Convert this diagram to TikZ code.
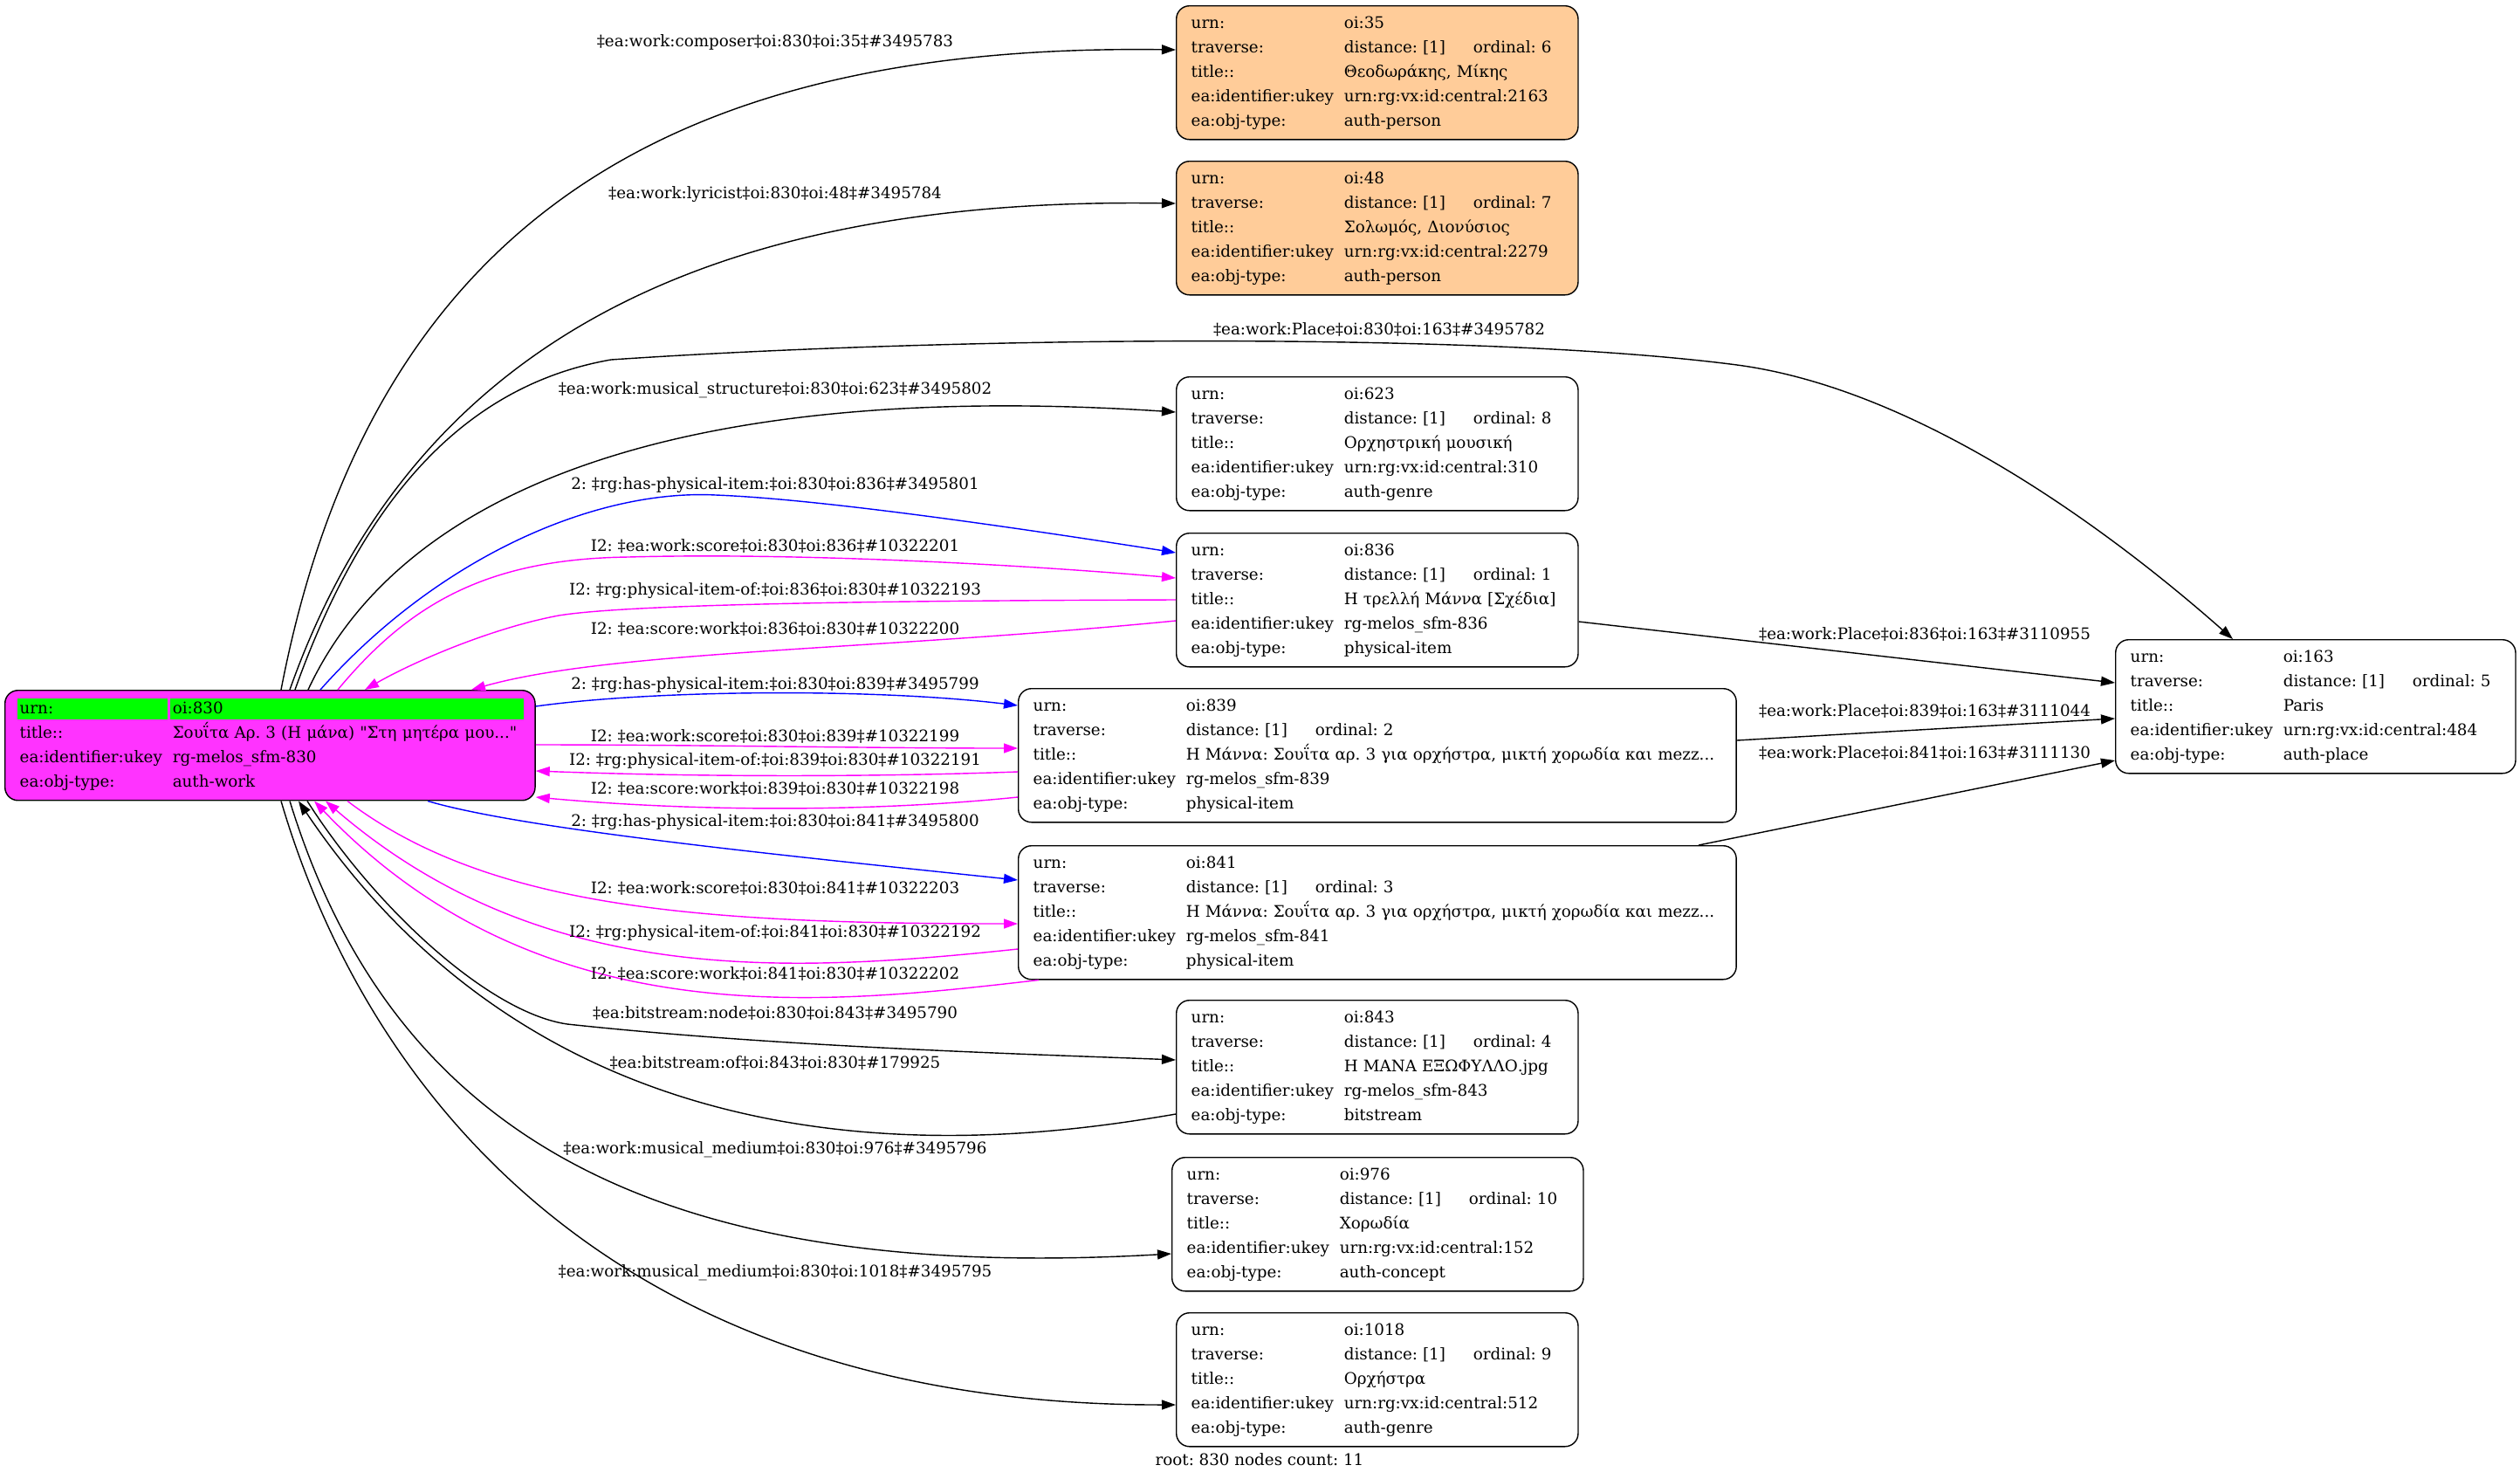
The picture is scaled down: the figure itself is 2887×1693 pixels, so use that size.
\documentclass[tikz,border=0pt]{standalone}
\usepackage{fontspec}
\setmainfont{DejaVu Serif}[Ligatures=TeXOff]
\usepackage{tikz}
\usetikzlibrary{arrows.meta,calc}

\definecolor{rootfill}{HTML}{FF33FF}
\definecolor{personfill}{HTML}{FFCC99}
\definecolor{urngreen}{HTML}{00FF00}
\definecolor{linkblue}{HTML}{0000FF}
\definecolor{linkpink}{HTML}{FF00FF}
\frenchspacing

\begin{document}
\begin{tikzpicture}[x=0.01cm, y=-0.01cm,
  rec/.style={draw, rounded corners=0.15cm, anchor=north west, align=left, inner xsep=0.17cm, inner ysep=0pt, minimum height=1.53cm, font=\fontsize{5.2}{7.97}\selectfont},
  elabel/.style={inner sep=0pt, font=\fontsize{5.2}{7.97}\selectfont},
  link/.style={line width=0.4pt, -{Triangle[length=0.16cm,width=0.11cm]}},
  has/.style={link, linkblue},
  inv/.style={link, linkpink}]
  \useasboundingbox (0,0) rectangle (2887,1693);

  \node[rec, fill=rootfill, text width=5.73cm, minimum height=1.26cm,
    path picture={
      \fill[urngreen, sharp corners] ($(path picture bounding box.north west)+(14,9)$) rectangle ++(172,24);
      \fill[urngreen, sharp corners] ($(path picture bounding box.north west)+(189,9)$) rectangle ++(405,24);
    }] (root) at (5,790) {\begin{tabular}{@{}p{1.75cm}@{}l@{}}
    urn: & oi:830\\
    title:: & Σουΐτα Αρ. 3 (Η μάνα) "Στη μητέρα μου..."\\
    ea:identifier:ukey & rg-melos\_sfm-830\\
    ea:obj-type: & auth-work
  \end{tabular}};

  \node[rec, fill=personfill, text width=4.26cm] (n35) at (1347,6) {\begin{tabular}{@{}p{1.75cm}@{}l@{}}
    urn: & oi:35\\
    traverse: & \makebox[1.48cm][l]{distance: [1]}ordinal: 6\\
    title:: & Θεοδωράκης, Μίκης\\
    ea:identifier:ukey & urn:rg:vx:id:central:2163\\
    ea:obj-type: & auth-person
  \end{tabular}};
  \node[rec, fill=personfill, text width=4.26cm] (n48) at (1347,184) {\begin{tabular}{@{}p{1.75cm}@{}l@{}}
    urn: & oi:48\\
    traverse: & \makebox[1.48cm][l]{distance: [1]}ordinal: 7\\
    title:: & Σολωμός, Διονύσιος\\
    ea:identifier:ukey & urn:rg:vx:id:central:2279\\
    ea:obj-type: & auth-person
  \end{tabular}};
  \node[rec, text width=4.26cm] (n623) at (1347,431) {\begin{tabular}{@{}p{1.75cm}@{}l@{}}
    urn: & oi:623\\
    traverse: & \makebox[1.48cm][l]{distance: [1]}ordinal: 8\\
    title:: & Ορχηστρική μουσική\\
    ea:identifier:ukey & urn:rg:vx:id:central:310\\
    ea:obj-type: & auth-genre
  \end{tabular}};
  \node[rec, text width=4.26cm] (n836) at (1347,610) {\begin{tabular}{@{}p{1.75cm}@{}l@{}}
    urn: & oi:836\\
    traverse: & \makebox[1.48cm][l]{distance: [1]}ordinal: 1\\
    title:: & Η τρελλή Μάννα [Σχέδια]\\
    ea:identifier:ukey & rg-melos\_sfm-836\\
    ea:obj-type: & physical-item
  \end{tabular}};
  \node[rec, text width=7.88cm] (n839) at (1166,788) {\begin{tabular}{@{}p{1.75cm}@{}l@{}}
    urn: & oi:839\\
    traverse: & \makebox[1.48cm][l]{distance: [1]}ordinal: 2\\
    title:: & Η Μάννα: Σουΐτα αρ. 3 για ορχήστρα, μικτή χορωδία και mezz...\\
    ea:identifier:ukey & rg-melos\_sfm-839\\
    ea:obj-type: & physical-item
  \end{tabular}};
  \node[rec, text width=7.88cm] (n841) at (1166,968) {\begin{tabular}{@{}p{1.75cm}@{}l@{}}
    urn: & oi:841\\
    traverse: & \makebox[1.48cm][l]{distance: [1]}ordinal: 3\\
    title:: & Η Μάννα: Σουΐτα αρ. 3 για ορχήστρα, μικτή χορωδία και mezz...\\
    ea:identifier:ukey & rg-melos\_sfm-841\\
    ea:obj-type: & physical-item
  \end{tabular}};
  \node[rec, text width=4.26cm] (n843) at (1347,1145) {\begin{tabular}{@{}p{1.75cm}@{}l@{}}
    urn: & oi:843\\
    traverse: & \makebox[1.48cm][l]{distance: [1]}ordinal: 4\\
    title:: & Η ΜΑΝΑ ΕΞΩΦΥΛΛΟ.jpg\\
    ea:identifier:ukey & rg-melos\_sfm-843\\
    ea:obj-type: & bitstream
  \end{tabular}};
  \node[rec, text width=4.37cm] (n976) at (1342,1325) {\begin{tabular}{@{}p{1.75cm}@{}l@{}}
    urn: & oi:976\\
    traverse: & \makebox[1.48cm][l]{distance: [1]}ordinal: 10\\
    title:: & Χορωδία\\
    ea:identifier:ukey & urn:rg:vx:id:central:152\\
    ea:obj-type: & auth-concept
  \end{tabular}};
  \node[rec, text width=4.26cm] (n1018) at (1347,1503) {\begin{tabular}{@{}p{1.75cm}@{}l@{}}
    urn: & oi:1018\\
    traverse: & \makebox[1.48cm][l]{distance: [1]}ordinal: 9\\
    title:: & Ορχήστρα\\
    ea:identifier:ukey & urn:rg:vx:id:central:512\\
    ea:obj-type: & auth-genre
  \end{tabular}};
  \node[rec, text width=4.24cm] (n163) at (2423,732) {\begin{tabular}{@{}p{1.75cm}@{}l@{}}
    urn: & oi:163\\
    traverse: & \makebox[1.48cm][l]{distance: [1]}ordinal: 5\\
    title:: & Paris\\
    ea:identifier:ukey & urn:rg:vx:id:central:484\\
    ea:obj-type: & auth-place
  \end{tabular}};

  % links leaving the top of the work
  \draw[link] ($(root.north west)+(317,0)$) .. controls (430,230) and (800,50) .. ($(n35.north west)+(0,51)$);
  \draw[link] ($(root.north west)+(327,0)$) .. controls (470,400) and (800,225) .. ($(n48.north west)+(0,49)$);
  \draw[link] ($(root.north west)+(333,0)$) .. controls (420,560) and (540,440) .. (700,412)
    .. controls (1100,385) and (1700,380) .. (1990,418) .. controls (2200,446) and (2420,610) .. ($(n163.north west)+(135,0)$);
  \draw[link] ($(root.north west)+(348,0)$) .. controls (460,560) and (780,435) .. ($(n623.north west)+(0,41)$);
  \draw[has] ($(root.north west)+(362,0)$) .. controls (500,640) and (680,560) .. (820,567)
    .. controls (950,572) and (1200,610) .. ($(n836.north west)+(0,23)$);
  \draw[inv] ($(root.north west)+(382,0)$) .. controls (470,690) and (560,640) .. (720,638)
    .. controls (900,633) and (1150,645) .. ($(n836.north west)+(0,52)$);
  \draw[inv] ($(n836.north west)+(0,77)$) .. controls (1000,688) and (720,692) .. (640,705)
    .. controls (560,720) and (470,760) .. ($(root.north west)+(413,0)$);
  \draw[inv] ($(n836.north west)+(0,101)$) .. controls (1000,745) and (700,745) .. ($(root.north west)+(535,0)$);

  % links on the right side
  \draw[has] ($(root.north east)+(0,19)$) .. controls (750,790) and (1000,788) .. ($(n839.north west)+(0,20)$);
  \draw[inv] ($(root.north east)+(0,63)$) .. controls (800,853) and (1000,857) .. ($(n839.north west)+(0,69)$);
  \draw[inv] ($(n839.north west)+(0,96)$) .. controls (1000,890) and (800,890) .. ($(root.north east)+(0,93)$);
  \draw[inv] ($(n839.north west)+(0,125)$) .. controls (1000,930) and (800,930) .. ($(root.north east)+(0,123)$);

  % links leaving the bottom
  \draw[has] ($(root.south west)+(485,0)$) .. controls (600,950) and (900,980) .. ($(n841.north west)+(0,40)$);
  \draw[inv] ($(root.south west)+(393,0)$) .. controls (560,1040) and (800,1058) .. ($(n841.north west)+(0,90)$);
  \draw[inv] ($(n841.north west)+(0,119)$) .. controls (900,1115) and (620,1130) .. ($(root.south west)+(368,0)$);
  \draw[inv] ($(n841.south west)+(24,0)$) .. controls (950,1150) and (620,1190) .. ($(root.south west)+(355,0)$);
  \draw[link] ($(root.south west)+(347,0)$) .. controls (430,1040) and (560,1160) .. (650,1173)
    .. controls (900,1200) and (1200,1208) .. ($(n843.north west)+(0,69)$);
  \draw[link] ($(n843.north west)+(0,131)$) .. controls (1150,1310) and (650,1375) .. ($(root.south west)+(337,0)$);
  \draw[link] ($(root.south west)+(327,0)$) .. controls (450,1300) and (750,1470) .. ($(n976.north west)+(0,111)$);
  \draw[link] ($(root.south west)+(317,0)$) .. controls (420,1250) and (700,1610) .. ($(n1018.north west)+(0,106)$);

  % places
  \draw[link] ($(n836.north east)+(0,102)$) -- ($(n163.north west)+(0,50)$);
  \draw[link] ($(n839.north east)+(0,60)$) -- ($(n163.north west)+(0,91)$);
  \draw[link] ($(n841.north west)+(780,0)$) -- ($(n163.north west)+(0,139)$);

  \node[elabel] (l35) at (888,48) {‡ea:work:composer‡oi:830‡oi:35‡\#3495783};
  \node[elabel] (l48) at (888,223) {‡ea:work:lyricist‡oi:830‡oi:48‡\#3495784};
  \node[elabel] (l163) at (1580,377) {‡ea:work:Place‡oi:830‡oi:163‡\#3495782};
  \node[elabel] (l623) at (888,447) {‡ea:work:musical\_structure‡oi:830‡oi:623‡\#3495802};
  \node[elabel] (lh836) at (888,556) {2: ‡rg:has-physical-item:‡oi:830‡oi:836‡\#3495801};
  \node[elabel] (lw836) at (888,625) {I2: ‡ea:work:score‡oi:830‡oi:836‡\#10322201};
  \node[elabel] (lp836) at (888,677) {I2: ‡rg:physical-item-of:‡oi:836‡oi:830‡\#10322193};
  \node[elabel] (ls836) at (888,720) {I2: ‡ea:score:work‡oi:836‡oi:830‡\#10322200};
  \node[elabel] (lh839) at (888,785) {2: ‡rg:has-physical-item:‡oi:830‡oi:839‡\#3495799};
  \node[elabel] (lw839) at (888,843) {I2: ‡ea:work:score‡oi:830‡oi:839‡\#10322199};
  \node[elabel] (lp839) at (888,872) {I2: ‡rg:physical-item-of:‡oi:839‡oi:830‡\#10322191};
  \node[elabel] (ls839) at (888,903) {I2: ‡ea:score:work‡oi:839‡oi:830‡\#10322198};
  \node[elabel] (lh841) at (888,942) {2: ‡rg:has-physical-item:‡oi:830‡oi:841‡\#3495800};
  \node[elabel] (lw841) at (888,1017) {I2: ‡ea:work:score‡oi:830‡oi:841‡\#10322203};
  \node[elabel] (lp841) at (888,1069) {I2: ‡rg:physical-item-of:‡oi:841‡oi:830‡\#10322192};
  \node[elabel] (ls841) at (888,1115) {I2: ‡ea:score:work‡oi:841‡oi:830‡\#10322202};
  \node[elabel] (lbn) at (888,1160) {‡ea:bitstream:node‡oi:830‡oi:843‡\#3495790};
  \node[elabel] (lbo) at (888,1217) {‡ea:bitstream:of‡oi:843‡oi:830‡\#179925};
  \node[elabel] (l976) at (888,1317) {‡ea:work:musical\_medium‡oi:830‡oi:976‡\#3495796};
  \node[elabel] (l1018) at (888,1458) {‡ea:work:musical\_medium‡oi:830‡oi:1018‡\#3495795};
  \node[elabel] (lp1) at (2205,726) {‡ea:work:Place‡oi:836‡oi:163‡\#3110955};
  \node[elabel] (lp2) at (2205,814) {‡ea:work:Place‡oi:839‡oi:163‡\#3111044};
  \node[elabel] (lp3) at (2205,862) {‡ea:work:Place‡oi:841‡oi:163‡\#3111130};

  \node[elabel] (footer) at (1443,1672) {root: 830 nodes count: 11};
\end{tikzpicture}
\end{document}
